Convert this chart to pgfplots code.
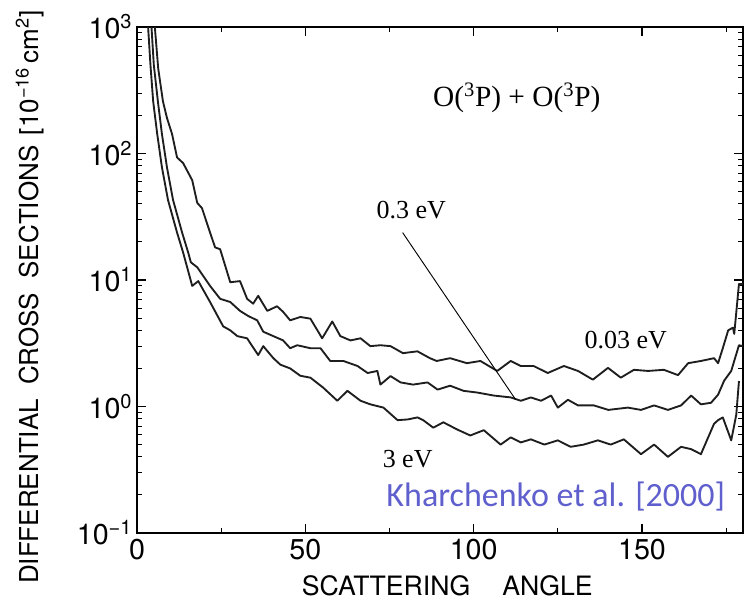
\documentclass[border=0pt]{standalone}
\usepackage{fontspec}
\setmainfont{TeX Gyre Heros}
\newfontfamily\timesf{Liberation Serif}
\newfontfamily\calib{Carlito}
\usepackage{pgfplots}
\pgfplotsset{compat=1.18}
\definecolor{kblue}{RGB}{95,95,205}
\definecolor{curve}{RGB}{30,30,30}
\begin{document}
\begin{tikzpicture}
\begin{axis}[name=ax, scale only axis, width=454.5pt, height=379.5pt,
  ymode=log, xmin=0, xmax=180, ymin=0.1, ymax=1000,
  xtick={0,50,100,150}, minor xtick={25,75,125,175},
  ytick={0.1,1,10,100,1000},
  yticklabels={10\textsuperscript{−1},10\textsuperscript{0},10\textsuperscript{1},10\textsuperscript{2},10\textsuperscript{3}},
  minor ytick={0.2,0.3,0.4,0.5,0.6,0.7,0.8,0.9,2,3,4,5,6,7,8,9,20,30,40,50,60,70,80,90,200,300,400,500,600,700,800,900},
  tick align=inside, major tick length=7pt, minor tick length=4pt,
  axis line style={line width=1pt},
  every tick/.style={black, line width=0.8pt},
  /pgf/number format/assume math mode=true,
  ticklabel style={font=\fontsize{21.5}{25}\selectfont},
  xticklabel style={yshift=-1pt},
  xlabel={SCATTERING\hspace{1.2em}ANGLE},
  ylabel={DIFFERENTIAL\hspace{0.55em}CROSS\hspace{0.55em}SECTIONS\hspace{0.4em}[10\textsuperscript{−16}\,cm\textsuperscript{2}]},
  every axis x label/.style={at={(rel axis cs:0.512,-0.105)}, anchor=center, font=\fontsize{20}{24}\selectfont},
  every axis y label/.style={at={(rel axis cs:-0.1766,0.466)}, rotate=90, anchor=center, font=\fontsize{19.5}{23}\selectfont},
]
% 0.03 eV
\addplot[curve, line width=1.4pt, line join=round] coordinates {(5.3,1000) (6.3,470) (7.7,259) (8.9,191) (10.4,143) (11.9,93) (13.7,84) (16.4,61.5) (17.9,40.7) (19.3,37) (21.7,23.7) (23.2,18.1) (24.7,17.5) (27.7,9.6) (30.6,9.8) (32.7,7.1) (34.5,6.5) (36,7.5) (38.7,5.7) (41.6,6.2) (43.4,5.6) (45.5,4.8) (48.5,5.1) (51.5,4.95) (55,3.46) (58,4.7) (60.4,3.6) (63.4,3.33) (66.4,3.46) (69.3,3.0) (72.3,3.05) (75.3,3.0) (79,2.64) (83.3,2.73) (87,2.41) (89,2.29) (93,2.41) (98,2.2) (102,2.29) (107,1.91) (111,2.29) (114,2.09) (117.8,2.09) (122,1.84) (126.8,2.09) (131,1.91) (135.4,1.63) (139.9,2.02) (143.7,1.69) (147.6,1.95) (151.8,1.91) (156.5,1.95) (160.7,1.77) (163.7,2.2) (167.5,2.29) (171.4,2.41) (172.6,2.2) (174,2.89) (175.6,4.0) (177,4.2) (177.4,3.75) (178.8,9.3) (180,9.3)};
% 0.3 eV
\addplot[curve, line width=1.4pt, line join=round] coordinates {(4.3,1000) (5.0,500) (6.2,259) (7.4,143) (8.9,77.8) (10.7,43) (13.4,23.7) (15.2,16.5) (16.0,13.8) (17.9,12.6) (21.7,8.98) (24.7,7.1) (27.7,6.7) (30.6,5.7) (33,5.2) (35.7,4.8) (37.5,3.9) (40.5,3.6) (43.4,3.33) (45.5,2.89) (47.6,3.05) (51.5,2.89) (54.5,2.89) (57.4,2.29) (61.3,2.29) (65.5,2.09) (68.5,1.84) (71.4,1.91) (72.3,1.49) (75.3,1.74) (78.3,1.55) (82,1.49) (86.3,1.55) (89.3,1.36) (93,1.46) (97,1.33) (101,1.29) (106,1.22) (111,1.18) (114,1.11) (117,1.18) (120,1.11) (123,1.22) (125,0.98) (128,1.13) (131,1.02) (135.7,1.02) (140,0.94) (145.8,0.98) (149.7,0.94) (153.6,1.02) (157.7,0.94) (161.6,1.02) (164.6,1.22) (167.5,1.04) (170.5,1.07) (172.6,1.24) (174.4,1.6) (176.5,1.91) (178.8,3.05) (180,3.0)};
% 3 eV
\addplot[curve, line width=1.4pt, line join=round] coordinates {(3.3,1000) (4.0,500) (4.8,259) (6.0,143) (7.4,78) (9.2,43) (11.9,23.7) (13.7,16.5) (16.4,8.98) (18.2,9.8) (21.7,6.7) (25.6,4.3) (27.7,4.0) (29.8,3.6) (32.7,3.46) (36,2.55) (37.5,3.0) (40.5,2.41) (42.6,2.14) (45.5,2.0) (48.5,1.75) (51.5,1.69) (55.3,1.41) (59.5,1.11) (62.5,1.33) (66.4,1.11) (69.3,1.04) (73.2,0.98) (77.4,0.78) (80.4,0.79) (83.3,0.82) (85,0.78) (88,0.68) (91,0.75) (95,0.66) (99,0.59) (103,0.65) (108,0.50) (111,0.57) (114,0.52) (117,0.55) (121,0.50) (125,0.54) (128.8,0.48) (132.7,0.50) (136.9,0.54) (140.7,0.50) (144.6,0.55) (149.7,0.42) (153.6,0.50) (157.7,0.40) (161.6,0.48) (164.6,0.46) (167.5,0.42) (171.4,0.73) (172.6,0.78) (174,0.82) (176.5,0.54) (178,0.86) (178.8,1.59)};
\draw[line width=0.7pt] (axis cs:78.9,23.7) -- (axis cs:112.5,1.13);
\node[font=\timesf\fontsize{22}{26}\selectfont] at (axis cs:112.8,274) {O(\textsuperscript{3}P) + O(\textsuperscript{3}P)};
\node[font=\timesf\fontsize{19.5}{22}\selectfont] at (axis cs:81.5,35.9) {0.3 eV};
\node[font=\timesf\fontsize{19.5}{22}\selectfont] at (axis cs:145.2,3.34) {0.03 eV};
\node[font=\timesf\fontsize{19.5}{22}\selectfont] at (axis cs:80.4,0.385) {3 eV};
\node[font=\calib\fontsize{25.5}{30}\selectfont, text=kblue] at (axis cs:124.4,0.194) {Kharchenko et al. [2000]};
\end{axis}
\pgfresetboundingbox
\path[use as bounding box] ([shift={(-102.75pt,-54pt)}]ax.south west) rectangle ([shift={(2.25pt,20.25pt)}]ax.north east);
\end{tikzpicture}
\end{document}
